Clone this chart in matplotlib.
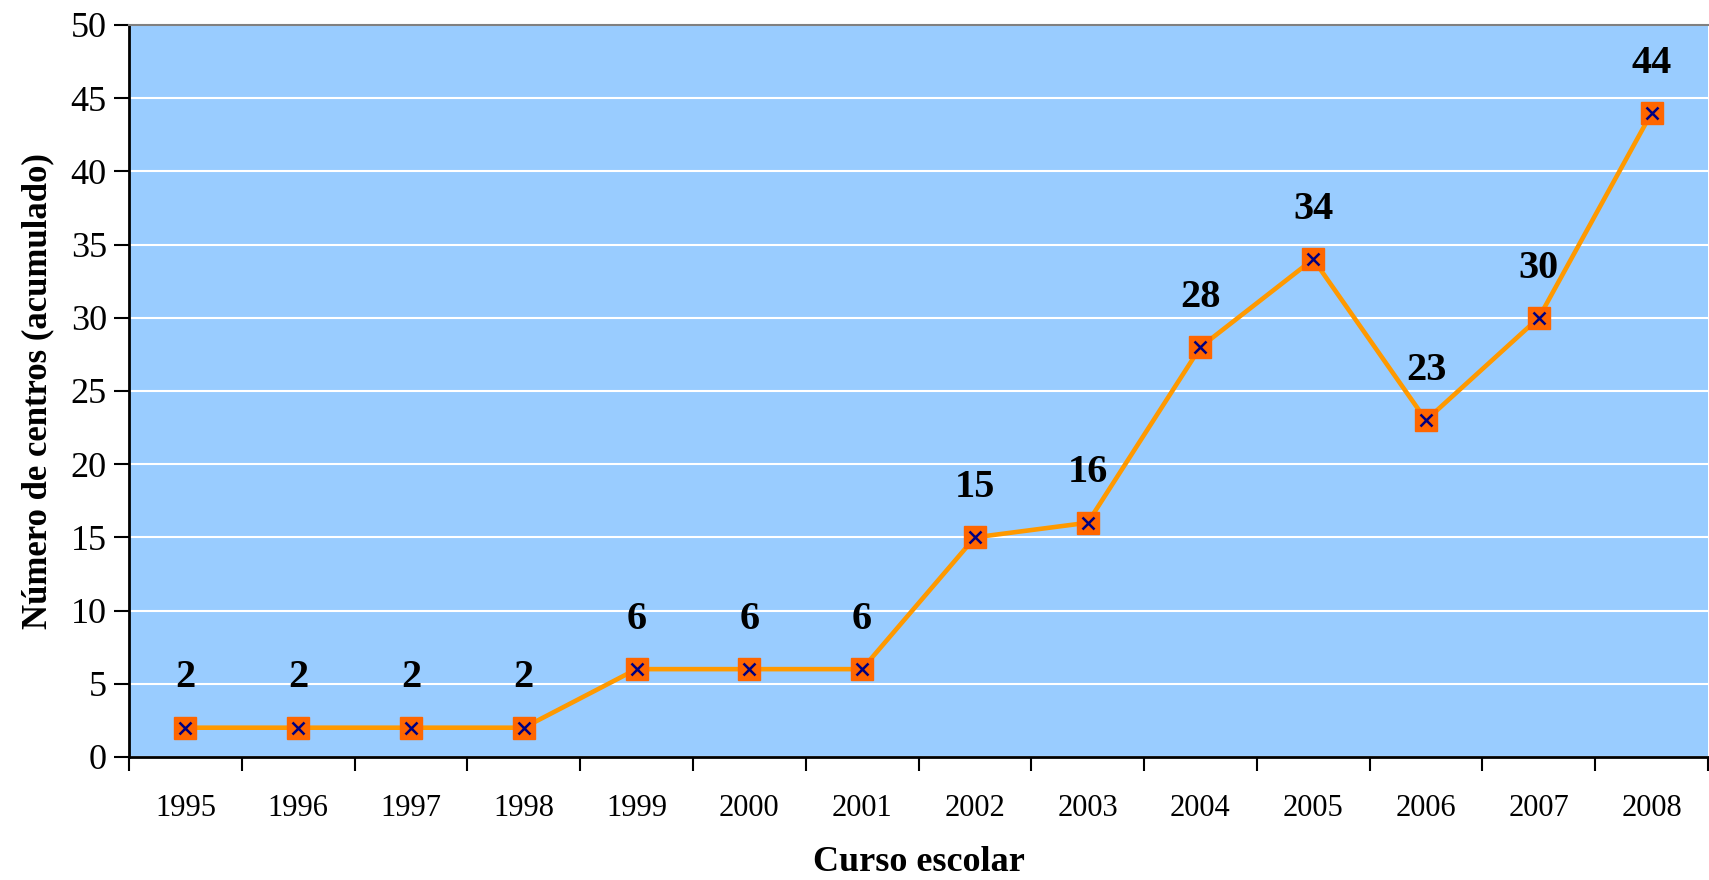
import numpy as np
import matplotlib.pyplot as plt
from matplotlib.ticker import FixedLocator

# data
years = ['1995', '1996', '1997', '1998', '1999', '2000', '2001',
         '2002', '2003', '2004', '2005', '2006', '2007', '2008']
centros = [2, 2, 2, 2, 6, 6, 6, 15, 16, 28, 34, 23, 30, 44]

plt.rcParams['font.family'] = ['Liberation Serif', 'DejaVu Serif']

fig = plt.figure(figsize=(17.09, 8.8), dpi=100)
ax = fig.add_axes([0.0755, 0.1398, 0.9239, 0.8318])
ax.set_facecolor('#99CCFF')

x = np.arange(len(years))
ax.plot(x, centros, color='#FF9900', lw=3.3, zorder=3)
ax.plot(x, centros, ls='none', marker='s', ms=16, mfc='#FF6600', mec='#FF6600', zorder=4)
ax.plot(x, centros, ls='none', marker='x', ms=9, mew=1.8, color='#000080', zorder=5)

for xi, v in zip(x, centros):
    ax.annotate(str(v), (xi, v), xytext=(0, 29), textcoords='offset points',
                ha='center', va='baseline', fontsize=29, fontweight='bold')

ax.set_xlim(-0.5, len(years) - 0.5)
ax.set_ylim(0, 50)
ax.set_yticks(range(0, 51, 5))
ax.yaxis.grid(True, color='white', lw=1.5)
ax.set_axisbelow(True)

ax.set_xticks(x)
ax.set_xticklabels(years, fontsize=22)
ax.xaxis.set_minor_locator(FixedLocator(np.arange(-0.5, len(years), 1)))
ax.tick_params(axis='x', which='major', length=0, pad=27)
ax.tick_params(axis='x', which='minor', length=10, width=1.5, direction='out')
ax.tick_params(axis='y', labelsize=26, length=11, width=1.5, pad=5)

for s in ['left', 'bottom']:
    ax.spines[s].set_linewidth(2)
ax.spines['top'].set_color('#808080')
ax.spines['top'].set_linewidth(1.5)
ax.spines['right'].set_visible(False)

ax.set_xlabel('Curso escolar', fontsize=26, fontweight='bold', labelpad=16)
ax.set_ylabel('Número de centros (acumulado)', fontsize=25, fontweight='bold', labelpad=12)

fig.savefig('out.png', dpi=100)
